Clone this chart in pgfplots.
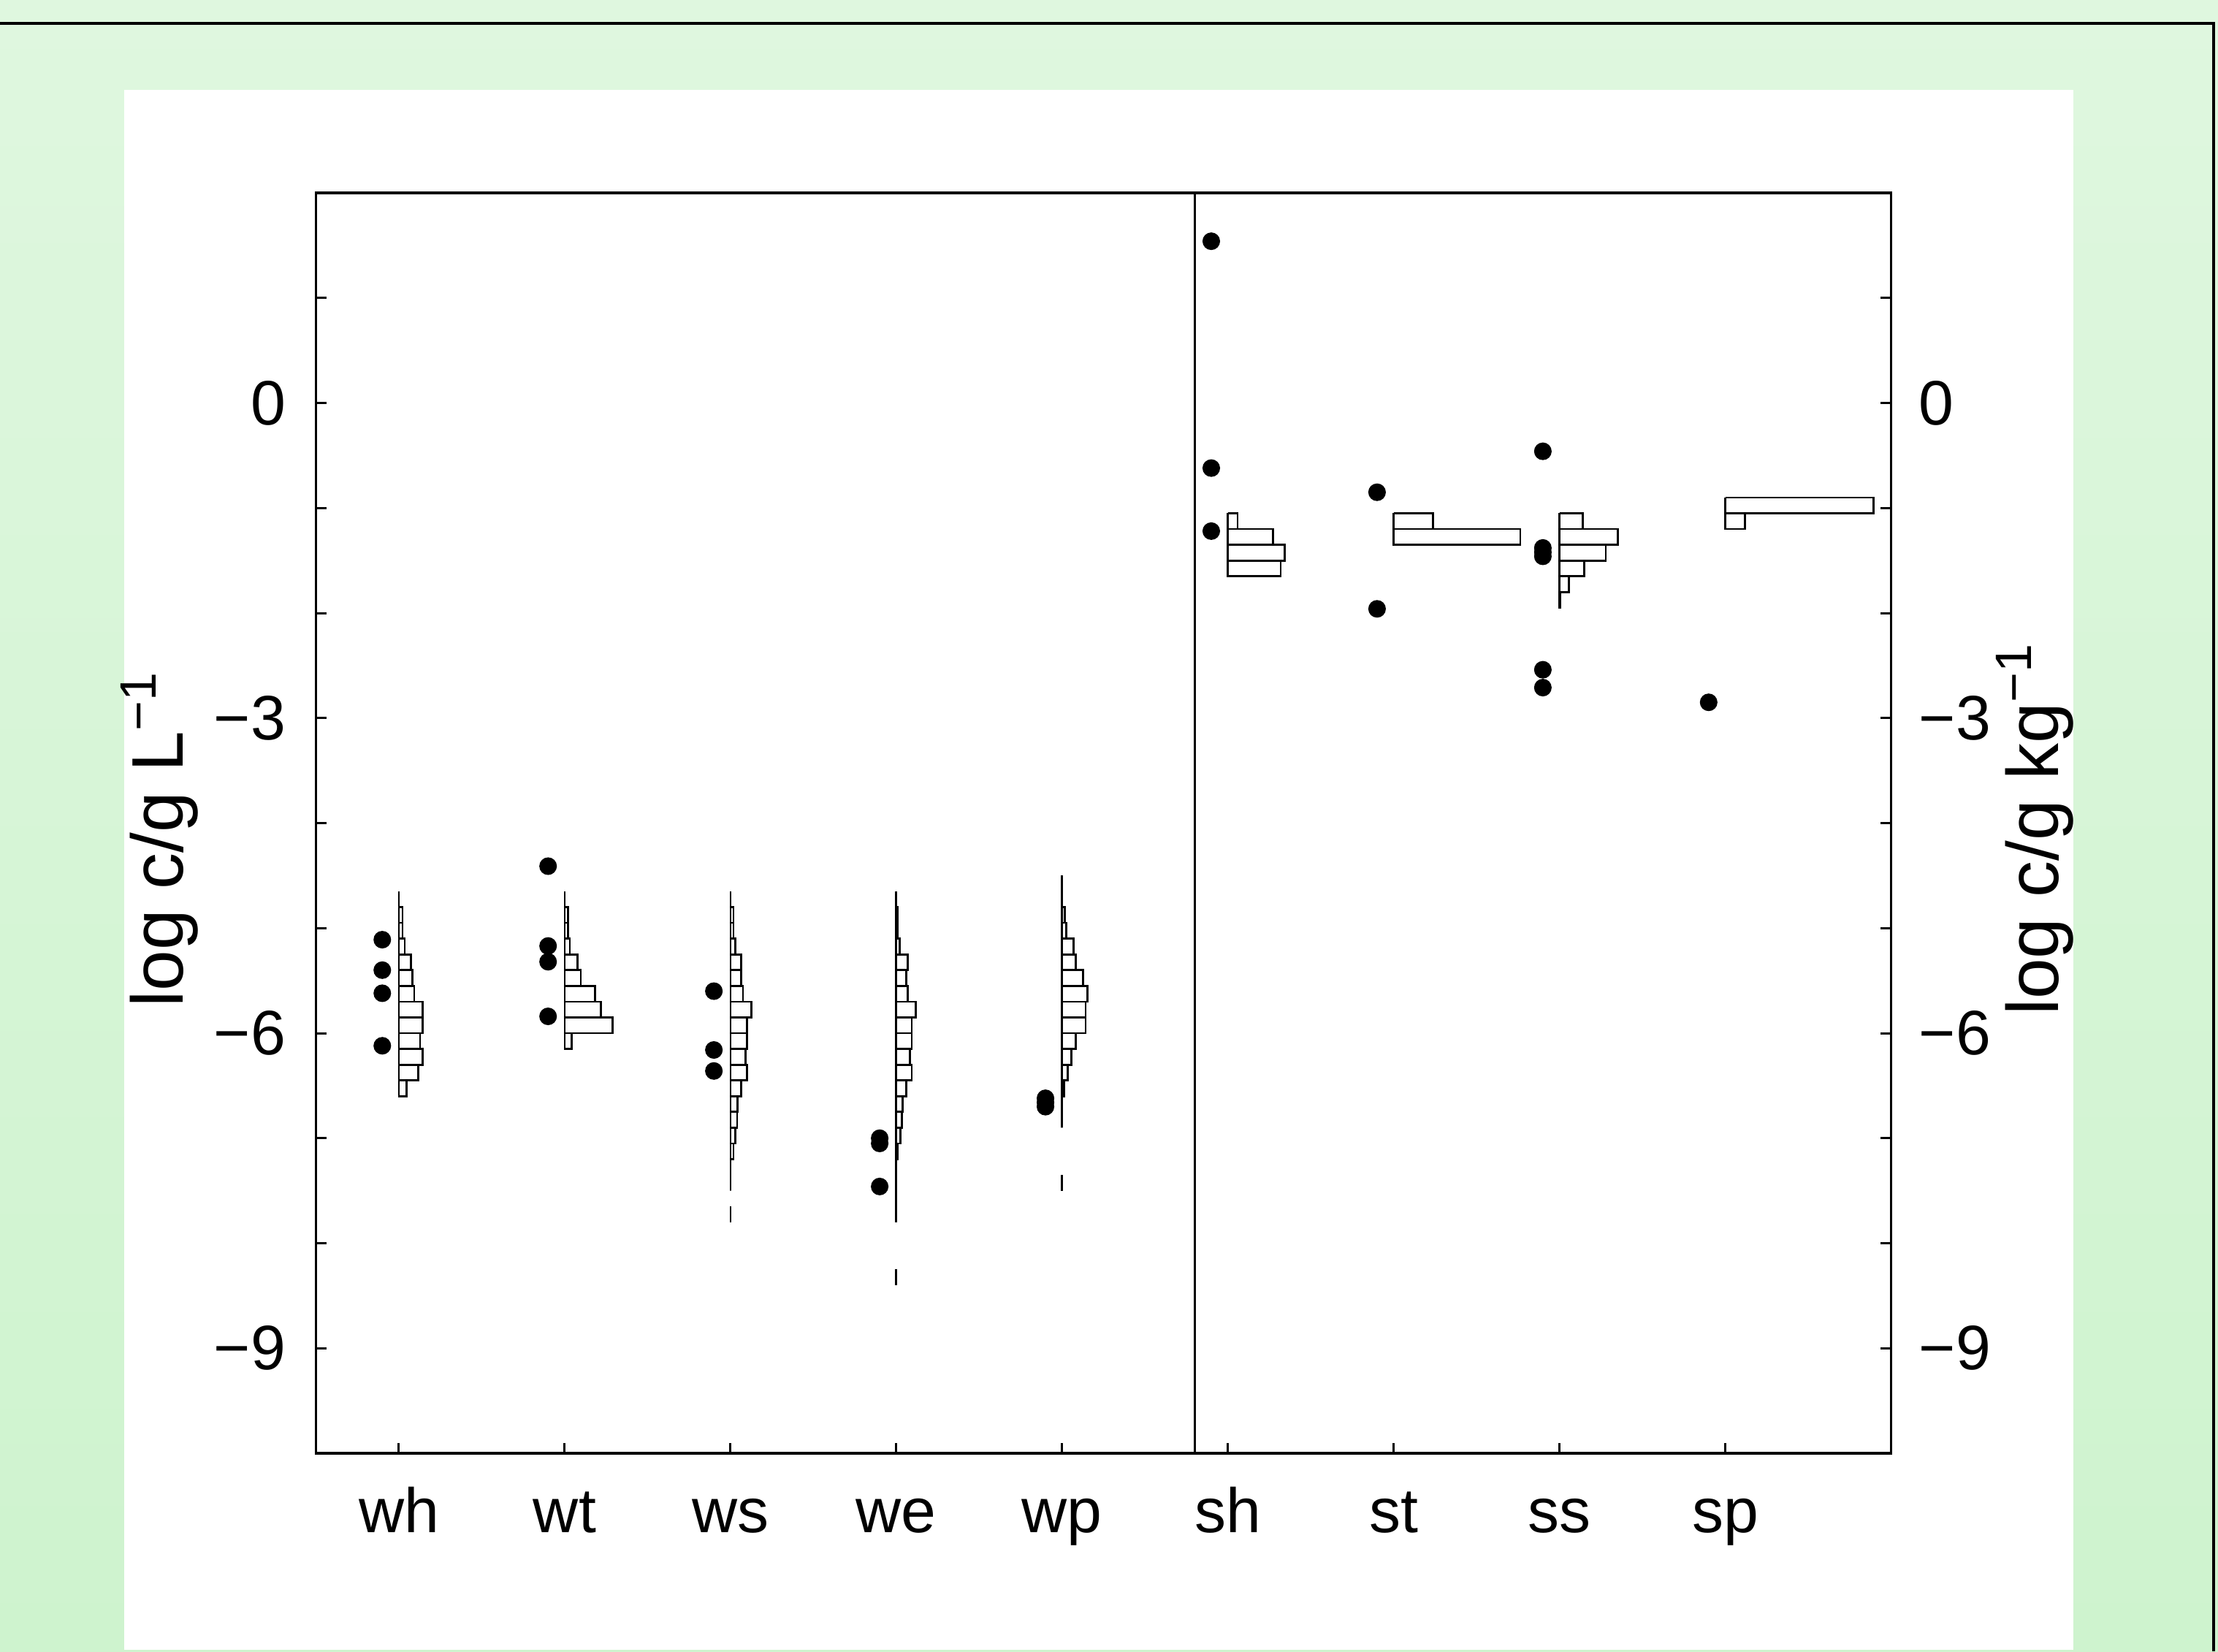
\documentclass[border=0pt]{standalone}
\usepackage{fontspec}
\setmainfont{Liberation Sans}
\usepackage{pgfplots}
\pgfplotsset{compat=1.18}
\definecolor{bgtop}{HTML}{DFF7DF}
\definecolor{bgbot}{HTML}{CEF3CE}

\pgfplotsset{
  hist/.style={black, line width=0.27pt, no markers, line join=miter},
  frame/.style={
    at={(43.25pt,-198.9pt)}, anchor=south west,
    scale only axis, width=215.6pt, height=172.5pt,
    xmin=-0.5, xmax=9, ymin=-10, ymax=2,
    axis line style={line width=0.35pt},
    tick align=inside, major tick length=1.43pt, minor tick length=1.43pt,
    tick style={black, line width=0.3pt},
    every tick label/.append style={font=\fontsize{8.6}{10}\selectfont, inner sep=0pt},
    label style={font=\fontsize{8.6}{10}\selectfont, inner sep=0pt},
    ytick={-9,-6,-3,0}, yticklabels={−9,−6,−3,0},
    minor ytick={-8,-7,-5,-4,-2,-1,1},
  },
}

\begin{document}
\begin{tikzpicture}
\useasboundingbox (0,0) rectangle (303.6pt,-226pt);
\shade[top color=bgtop, bottom color=bgbot] (0,0) rectangle (303.6pt,-226pt);
\fill[white] (17.0pt,-12.3pt) rectangle (283.8pt,-225.8pt);
\draw[line width=0.4pt] (0,-3.15pt) -- (303.0pt,-3.15pt) -- (303.0pt,-226pt);

\begin{axis}[frame,
  xtick={0,1,2,3,4,5,6,7,8},
  xticklabels={wh,wt,ws,we,wp,sh,st,ss,sp},
  xtick pos=left, ytick pos=left,
  xticklabel style={anchor=base, yshift=-10.8pt},
  yticklabel style={anchor=east, xshift=-3.95pt},
  ylabel={log c/g L\textsuperscript{−1}},
  every axis y label/.style={at={(axis description cs:-0.0846,0.488)}, rotate=90, anchor=base},
]
% separator between water and sediment samples
\addplot[black, line width=0.3pt] coordinates {(4.8,-10) (4.8,2)};

% histograms, widths measured from the base line of each category
\addplot[hist, x filter/.expression={x+0}] coordinates {
(0,-4.65) (0,-4.8) (0.022,-4.8) (0.022,-4.95) (0,-4.95) (0.022,-4.95) (0.022,-5.1) (0,-5.1)
(0.036,-5.1) (0.036,-5.25) (0,-5.25) (0.072,-5.25) (0.072,-5.4) (0,-5.4) (0.083,-5.4) (0.083,-5.55)
(0,-5.55) (0.092,-5.55) (0.092,-5.7) (0,-5.7) (0.142,-5.7) (0.142,-5.85) (0,-5.85) (0.142,-5.85)
(0.142,-6.0) (0,-6.0) (0.128,-6.0) (0.128,-6.15) (0,-6.15) (0.142,-6.15) (0.142,-6.3) (0,-6.3)
(0.117,-6.3) (0.117,-6.45) (0,-6.45) (0.047,-6.45) (0.047,-6.6) (0,-6.6) (0,-4.65)
};
\addplot[hist, x filter/.expression={x+1}] coordinates {
(0,-4.65) (0,-4.8) (0.02,-4.8) (0.02,-4.95) (0,-4.95) (0.02,-4.95) (0.02,-5.1) (0,-5.1)
(0.031,-5.1) (0.031,-5.25) (0,-5.25) (0.079,-5.25) (0.079,-5.4) (0,-5.4) (0.097,-5.4) (0.097,-5.55)
(0,-5.55) (0.182,-5.55) (0.182,-5.7) (0,-5.7) (0.218,-5.7) (0.218,-5.85) (0,-5.85) (0.288,-5.85)
(0.288,-6.0) (0,-6.0) (0.043,-6.0) (0.043,-6.15) (0,-6.15) (0,-4.65)
};
\addplot[hist, x filter/.expression={x+2}] coordinates {
(0,-4.65) (0,-4.8) (0.018,-4.8) (0.018,-4.95) (0,-4.95) (0.018,-4.95) (0.018,-5.1) (0,-5.1)
(0.029,-5.1) (0.029,-5.25) (0,-5.25) (0.063,-5.25) (0.063,-5.4) (0,-5.4) (0.063,-5.4) (0.063,-5.55)
(0,-5.55) (0.076,-5.55) (0.076,-5.7) (0,-5.7) (0.126,-5.7) (0.126,-5.85) (0,-5.85) (0.101,-5.85)
(0.101,-6.0) (0,-6.0) (0.101,-6.0) (0.101,-6.15) (0,-6.15) (0.09,-6.15) (0.09,-6.3) (0,-6.3)
(0.101,-6.3) (0.101,-6.45) (0,-6.45) (0.065,-6.45) (0.065,-6.6) (0,-6.6) (0.043,-6.6) (0.043,-6.75)
(0,-6.75) (0.04,-6.75) (0.04,-6.9) (0,-6.9) (0.029,-6.9) (0.029,-7.05) (0,-7.05) (0.018,-7.05)
(0.018,-7.2) (0,-7.2) (0,-7.5) (0,-4.65)
};
\addplot[hist, x filter/.expression={x+2}] coordinates {(0,-7.65) (0,-7.8)};
\addplot[hist, x filter/.expression={x+3}] coordinates {
(0,-4.65) (0,-4.8) (0.01,-4.8) (0.01,-4.95) (0,-4.95) (0.01,-4.95) (0.01,-5.1) (0,-5.1)
(0.022,-5.1) (0.022,-5.25) (0,-5.25) (0.069,-5.25) (0.069,-5.4) (0,-5.4) (0.059,-5.4) (0.059,-5.55)
(0,-5.55) (0.069,-5.55) (0.069,-5.7) (0,-5.7) (0.118,-5.7) (0.118,-5.85) (0,-5.85) (0.093,-5.85)
(0.093,-6.0) (0,-6.0) (0.093,-6.0) (0.093,-6.15) (0,-6.15) (0.081,-6.15) (0.081,-6.3) (0,-6.3)
(0.094,-6.3) (0.094,-6.45) (0,-6.45) (0.059,-6.45) (0.059,-6.6) (0,-6.6) (0.039,-6.6) (0.039,-6.75)
(0,-6.75) (0.035,-6.75) (0.035,-6.9) (0,-6.9) (0.024,-6.9) (0.024,-7.05) (0,-7.05) (0.01,-7.05)
(0.01,-7.2) (0,-7.2) (0,-7.8) (0,-4.65)
};
\addplot[hist, x filter/.expression={x+3}] coordinates {(0,-8.25) (0,-8.4)};
\addplot[hist, x filter/.expression={x+4}] coordinates {
(0,-4.5) (0,-4.8) (0.016,-4.8) (0.016,-4.95) (0,-4.95) (0.026,-4.95) (0.026,-5.1) (0,-5.1)
(0.069,-5.1) (0.069,-5.25) (0,-5.25) (0.083,-5.25) (0.083,-5.4) (0,-5.4) (0.128,-5.4) (0.128,-5.55)
(0,-5.55) (0.154,-5.55) (0.154,-5.7) (0,-5.7) (0.142,-5.7) (0.142,-5.85) (0,-5.85) (0.142,-5.85)
(0.142,-6.0) (0,-6.0) (0.083,-6.0) (0.083,-6.15) (0,-6.15) (0.057,-6.15) (0.057,-6.3) (0,-6.3)
(0.035,-6.3) (0.035,-6.45) (0,-6.45) (0.012,-6.45) (0.012,-6.6) (0,-6.6) (0,-6.9) (0,-4.5)
};
\addplot[hist, x filter/.expression={x+4}] coordinates {(0,-7.35) (0,-7.5)};
\addplot[hist, x filter/.expression={x+5}] coordinates {
(0,-1.05) (0.059,-1.05) (0.059,-1.2) (0,-1.2) (0.271,-1.2) (0.271,-1.35) (0,-1.35) (0.342,-1.35)
(0.342,-1.5) (0,-1.5) (0.318,-1.5) (0.318,-1.65) (0,-1.65) (0,-1.05)
};
\addplot[hist, x filter/.expression={x+6}] coordinates {
(0,-1.05) (0.236,-1.05) (0.236,-1.2) (0,-1.2) (0.764,-1.2) (0.764,-1.35) (0,-1.35) (0,-1.05)
};
\addplot[hist, x filter/.expression={x+7}] coordinates {
(0,-1.05) (0.14,-1.05) (0.14,-1.2) (0,-1.2) (0.352,-1.2) (0.352,-1.35) (0,-1.35) (0.28,-1.35)
(0.28,-1.5) (0,-1.5) (0.15,-1.5) (0.15,-1.65) (0,-1.65) (0.057,-1.65) (0.057,-1.8) (0,-1.8)
(0.006,-1.8) (0.006,-1.95) (0,-1.95) (0,-1.05)
};
\addplot[hist, x filter/.expression={x+8}] coordinates {
(0,-0.9) (0.894,-0.9) (0.894,-1.05) (0,-1.05) (0.118,-1.05) (0.118,-1.2) (0,-1.2) (0,-0.9)
};

% individual samples
\addplot[only marks, mark=*, mark size=1.0pt, black] coordinates {
(-0.1,-5.11) (-0.1,-5.40) (-0.1,-5.62) (-0.1,-6.12)
(0.9,-4.41) (0.9,-5.17) (0.9,-5.32) (0.9,-5.84)
(1.9,-5.60) (1.9,-6.16) (1.9,-6.36)
(2.9,-7.00) (2.9,-7.05) (2.9,-7.46)
(3.9,-6.62) (3.9,-6.66) (3.9,-6.70)
(4.9,1.54) (4.9,-0.62) (4.9,-1.22)
(5.9,-0.85) (5.9,-1.96)
(6.9,-0.46) (6.9,-1.38) (6.9,-1.42) (6.9,-1.46) (6.9,-2.54) (6.9,-2.71)
(7.9,-2.85)
};
\end{axis}

% right-hand scale
\begin{axis}[frame,
  hide x axis, axis y line*=right, ytick pos=right,
  yticklabel style={anchor=west, xshift=3.65pt},
  ylabel={log c/g kg\textsuperscript{−1}},
  every axis y label/.style={at={(axis description cs:1.106,0.496)}, rotate=90, anchor=base},
]
\addplot[draw=none] coordinates {(0,0)};
\end{axis}
\end{tikzpicture}
\end{document}
